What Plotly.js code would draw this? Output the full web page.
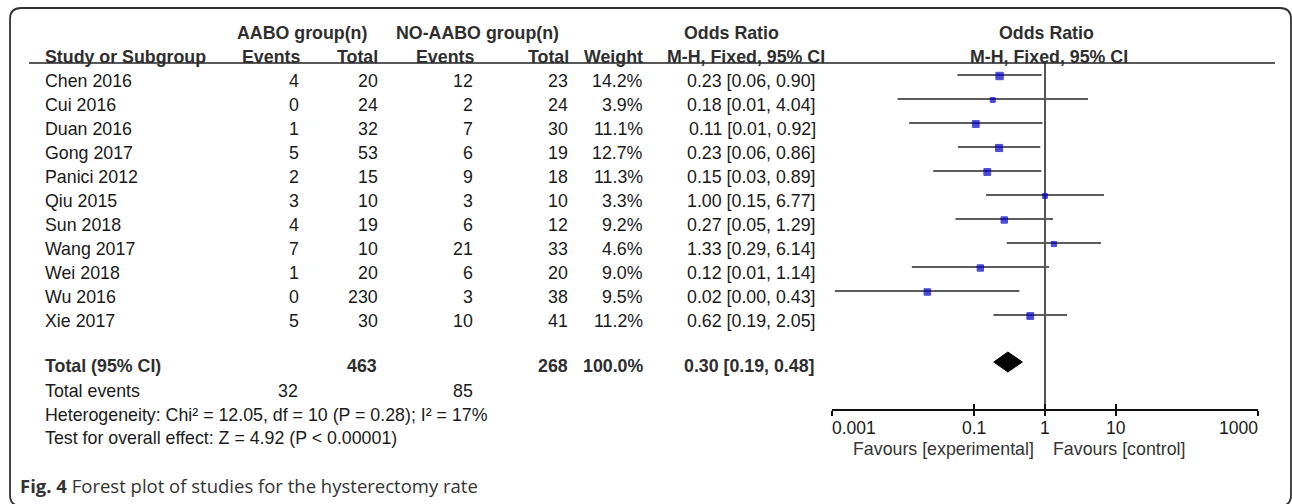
<!DOCTYPE html>
<html>
<head>
<meta charset="utf-8">
<script src="https://cdn.plot.ly/plotly-3.0.1.min.js"></script>
<style>
  html, body { margin: 0; padding: 0; background: #fff; }
  #chart { width: 1292px; height: 504px; }
</style>
</head>
<body>
<div id="chart"></div>
<script>
// ---------------- data ----------------
const studies    = ['Chen 2016','Cui 2016','Duan 2016','Gong 2017','Panici 2012','Qiu 2015','Sun 2018','Wang 2017','Wei 2018','Wu 2016','Xie 2017'];
const aaboEvents = [4, 0, 1, 5, 2, 3, 4, 7, 1, 0, 5];
const aaboTotal  = [20, 24, 32, 53, 15, 10, 19, 10, 20, 230, 30];
const noEvents   = [12, 2, 7, 6, 9, 3, 6, 21, 6, 3, 10];
const noTotal    = [23, 24, 30, 19, 18, 10, 12, 33, 20, 38, 41];
const weights    = [14.2, 3.9, 11.1, 12.7, 11.3, 3.3, 9.2, 4.6, 9.0, 9.5, 11.2];
const oddsRatio  = [0.2292, 0.1837, 0.1060, 0.2257, 0.1538, 1.0000, 0.2667, 1.3333, 0.1228, 0.0220, 0.6200];
const ciLow      = [0.0584, 0.0084, 0.0122, 0.0594, 0.0267, 0.1477, 0.0549, 0.2895, 0.0133, 0.0011, 0.1876];
const ciHigh     = [0.8995, 4.0360, 0.9227, 0.8584, 0.8872, 6.7710, 1.2948, 6.1400, 1.1380, 0.4349, 2.0500];

const totalAABO = 463, totalNO = 268, totalWeight = '100.0%';
const totalEventsAABO = 32, totalEventsNO = 85;
const pooledOR = 0.30, pooledLow = 0.19, pooledHigh = 0.48;

const tickVals   = [0.001, 0.1, 1, 10, 1000];
const tickLabels = ['0.001', '0.1', '1', '10', '1000'];

const heteroText = 'Heterogeneity: Chi² = 12.05, df = 10 (P = 0.28); I² = 17%';
const effectText = 'Test for overall effect: Z = 4.92 (P < 0.00001)';
const favLeft = 'Favours [experimental]', favRight = 'Favours [control]';

// ---------------- layout helpers ----------------
const W = 1292, H = 504;
const px = x => x / W;
const FONT = 'Liberation Sans, Arial, Helvetica, sans-serif';
const FS = 17.8;
const TXT = '#1a1a1a';
const textRowY = i => 81 + 24 * i;
const plotRowY = i => 75 + 24 * i;
const axisY = 409, headLineY = 63, totalTextY = 366, totalPlotY = 362;

const ann = [];
function T(text, x, y, anchor, opts) {
  opts = opts || {};
  ann.push({
    text: opts.bold ? '<b>' + text + '</b>' : text,
    xref: opts.xref || 'paper', yref: 'y',
    x: opts.xref ? x : px(x), y: y,
    xanchor: anchor, yanchor: 'middle',
    showarrow: false, borderpad: 0, borderwidth: 0,
    font: { family: opts.family || FONT, size: opts.size || FS, color: opts.color || TXT }
  });
}

// headers
const HC = '#2e2e2e';
T('AABO group(n)', 302, 33, 'center', {bold: true, color: HC});
T('NO-AABO group(n)', 477, 33, 'center', {bold: true, color: HC});
T('Odds Ratio', 731, 33, 'center', {bold: true, color: HC});
T('Odds Ratio', 1046, 33, 'center', {bold: true, color: HC});
T('Study or Subgroup', 45, 57, 'left', {bold: true, color: HC});
T('Events', 300, 57, 'right', {bold: true, color: HC});
T('Total', 378, 57, 'right', {bold: true, color: HC});
T('Events', 474, 57, 'right', {bold: true, color: HC});
T('Total', 569, 57, 'right', {bold: true, color: HC});
T('Weight', 643, 57, 'right', {bold: true, color: HC});
T('M-H, Fixed, 95% CI', 825, 57, 'right', {bold: true, color: HC});
T('M-H, Fixed, 95% CI', 1049, 57, 'center', {bold: true, color: HC});

// study rows
studies.forEach((s, i) => {
  const y = textRowY(i);
  T(s, 45, y, 'left');
  T(String(aaboEvents[i]), 299, y, 'right');
  T(String(aaboTotal[i]), 378, y, 'right');
  T(String(noEvents[i]), 473, y, 'right');
  T(String(noTotal[i]), 568, y, 'right');
  T(weights[i].toFixed(1) + '%', 643, y, 'right');
  T(oddsRatio[i].toFixed(2) + ' [' + ciLow[i].toFixed(2) + ', ' + ciHigh[i].toFixed(2) + ']', 816, y, 'right');
});

// totals
T('Total (95% CI)', 45, totalTextY, 'left', {bold: true, color: HC});
T(String(totalAABO), 377, totalTextY, 'right', {bold: true, color: HC});
T(String(totalNO), 568, totalTextY, 'right', {bold: true, color: HC});
T(totalWeight, 643, totalTextY, 'right', {bold: true, color: HC});
T(pooledOR.toFixed(2) + ' [' + pooledLow.toFixed(2) + ', ' + pooledHigh.toFixed(2) + ']', 815, totalTextY, 'right', {bold: true, color: HC});
T('Total events', 45, 391, 'left');
T(String(totalEventsAABO), 298, 391, 'right');
T(String(totalEventsNO), 473, 391, 'right');
T(heteroText, 45, 415, 'left');
T(effectText, 45, 438, 'left');

// tick labels (end labels aligned inward, as in the reference)
tickVals.forEach((v, i) => {
  const anchor = i === 0 ? 'left' : (i === tickVals.length - 1 ? 'right' : 'center');
  T(tickLabels[i], Math.log10(v), 428, anchor, {xref: 'x', size: 17.5, color: '#1a1a1a'});
});
T(favLeft, 943, 449, 'center', {color: '#333'});
T(favRight, 1119, 449, 'center', {color: '#333'});

// caption
ann.push({
  text: '<b>Fig. 4</b> Forest plot of studies for the hysterectomy rate',
  xref: 'paper', yref: 'y', x: px(19), y: 485, xanchor: 'left', yanchor: 'middle',
  showarrow: false, borderpad: 0,
  font: { family: 'Open Sans, Noto Sans, sans-serif', size: 18.5, color: '#333' }
});

// ---------------- traces ----------------
const ciX = [], ciY = [];
studies.forEach((s, i) => { ciX.push(ciLow[i], ciHigh[i], null); ciY.push(plotRowY(i), plotRowY(i), null); });

const traces = [
  { type: 'scatter', mode: 'lines', x: ciX, y: ciY, line: { color: '#262626', width: 1.5 }, hoverinfo: 'skip', showlegend: false },
  { type: 'scatter', mode: 'lines', x: [1, 1], y: [headLineY, axisY], line: { color: '#555', width: 2 }, hoverinfo: 'skip', showlegend: false },
  { type: 'scatter', mode: 'markers', x: oddsRatio, y: studies.map((s, i) => plotRowY(i) + 1),
    marker: { symbol: 'square', color: '#0000c4', size: weights.map(w => 2.3 + 1.35 * Math.sqrt(w)),
              line: { width: 1, color: '#0000c4' } },
    hoverinfo: 'skip', showlegend: false },
  { type: 'scatter', mode: 'lines', fill: 'toself', fillcolor: '#000',
    x: [pooledLow, pooledOR, pooledHigh, pooledOR, pooledLow],
    y: [totalPlotY, totalPlotY - 10, totalPlotY, totalPlotY + 10, totalPlotY],
    line: { color: '#000', width: 1 }, hoverinfo: 'skip', showlegend: false }
];

// ---------------- shapes ----------------
function borderPath(x0, y0, x1, y1, r) {
  const rx = r / W;
  const X0 = px(x0), X1 = px(x1);
  return 'M ' + (X0 + rx) + ',' + y0 + ' L ' + (X1 - rx) + ',' + y0 +
    ' Q ' + X1 + ',' + y0 + ' ' + X1 + ',' + (y0 + r) +
    ' L ' + X1 + ',' + (y1 - r) + ' Q ' + X1 + ',' + y1 + ' ' + (X1 - rx) + ',' + y1 +
    ' L ' + (X0 + rx) + ',' + y1 + ' Q ' + X0 + ',' + y1 + ' ' + X0 + ',' + (y1 - r) +
    ' L ' + X0 + ',' + (y0 + r) + ' Q ' + X0 + ',' + y0 + ' ' + (X0 + rx) + ',' + y0 + ' Z';
}
const shapes = [
  { type: 'line', xref: 'paper', yref: 'y', x0: px(29), x1: px(1275), y0: headLineY, y1: headLineY,
    line: { color: '#222', width: 1.5 } },
  { type: 'path', xref: 'paper', yref: 'y', path: borderPath(10, 8, 1291, 506, 11),
    line: { color: '#333', width: 1.8 }, fillcolor: 'rgba(0,0,0,0)' }
];

const axisPos = (H - axisY) / H;
const xDomain = [px(832), px(1258)];
const layout = {
  width: W, height: H,
  margin: { l: 0, r: 0, t: 0, b: 0, pad: 0 },
  paper_bgcolor: '#fff', plot_bgcolor: 'rgba(0,0,0,0)',
  showlegend: false,
  xaxis: {
    type: 'log', range: [-3, 3], domain: xDomain, anchor: 'free', position: axisPos,
    showgrid: false, zeroline: false, showline: true, linecolor: '#111', linewidth: 1.8,
    tickmode: 'array', tickvals: tickVals, ticks: 'outside', ticklen: 5, tickwidth: 1.8, tickcolor: '#111',
    showticklabels: false, fixedrange: true
  },
  xaxis2: {
    type: 'log', range: [-3, 3], overlaying: 'x', anchor: 'free', position: axisPos,
    showgrid: false, zeroline: false, showline: false,
    tickmode: 'array', tickvals: tickVals, ticks: 'inside', ticklen: 5, tickwidth: 1.8, tickcolor: '#111',
    showticklabels: false, fixedrange: true
  },
  yaxis: { range: [H, 0], domain: [0, 1], visible: false, fixedrange: true },
  annotations: ann,
  shapes: shapes
};

// invisible point that activates the overlay axis carrying the inner half of the ticks
traces.push({ type: 'scatter', mode: 'markers', x: [1], y: [-100], xaxis: 'x2', yaxis: 'y', marker: { opacity: 0 }, hoverinfo: 'skip', showlegend: false });

Plotly.newPlot('chart', traces, layout, { displayModeBar: false, staticPlot: true });
</script>
</body>
</html>
